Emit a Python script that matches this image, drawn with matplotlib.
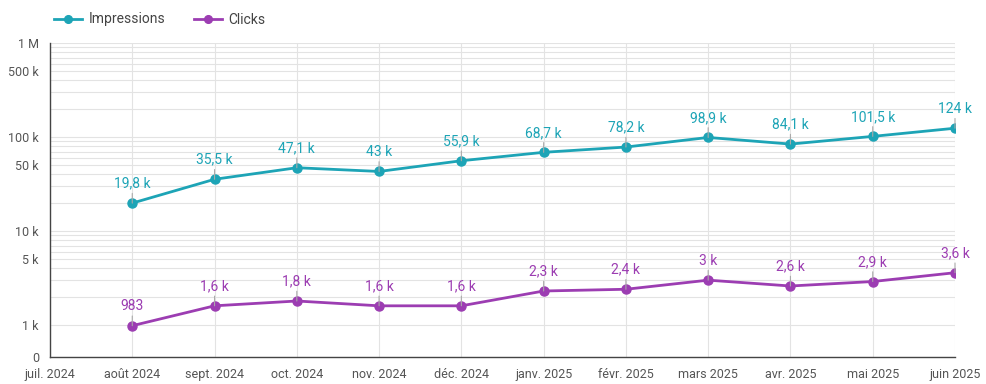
import matplotlib.pyplot as plt
import matplotlib.ticker as mticker
import numpy as np

plt.rcParams['font.family'] = ['Roboto', 'DejaVu Sans']

months = ['juil. 2024', 'août 2024', 'sept. 2024', 'oct. 2024', 'nov. 2024', 'déc. 2024',
          'janv. 2025', 'févr. 2025', 'mars 2025', 'avr. 2025', 'mai 2025', 'juin 2025']
impressions = [np.nan, 19800, 35500, 47100, 43000, 55900, 68700, 78200, 98900, 84100, 101500, 124000]
clicks = [np.nan, 983, 1600, 1800, 1600, 1600, 2300, 2400, 3000, 2600, 2900, 3600]

teal = '#1da4b6'
purple = '#9c3db2'


def fmt(v):
    if v < 1000:
        return f'{v:.0f}'
    s = f'{v / 1000:.1f}'.rstrip('0').rstrip('.')
    return s.replace('.', ',') + ' k'


fig = plt.figure(figsize=(9.87, 3.84), dpi=100)
ax = fig.add_axes([50 / 987, 27 / 384, 905 / 987, 314 / 384])

x = np.arange(len(months))
for vals, col, name in [(impressions, teal, 'Impressions'), (clicks, purple, 'Clicks')]:
    ax.plot(x, vals, color=col, lw=2, marker='o', ms=6.5, label=name, zorder=3)
    for xi, v in zip(x, vals):
        if np.isnan(v):
            continue
        ax.annotate(fmt(v), (xi, v), xytext=(0, 9), textcoords='offset points',
                    ha='center', va='bottom', color=col, fontsize=10,
                    arrowprops=dict(arrowstyle='-', color='#aaaaaa', lw=0.8,
                                    shrinkA=0, shrinkB=0), zorder=4)

ax.set_yscale('log')
ax.set_ylim(10 ** (3 - 32 / 94), 1e6)
ax.set_xlim(0, len(months) - 1)

major = [10 ** (3 - 32 / 94), 1e3, 5e3, 1e4, 5e4, 1e5, 5e5, 1e6]
major_lbl = ['0', '1 k', '5 k', '10 k', '50 k', '100 k', '500 k', '1 M']
minor = [m * 10 ** e for e in range(3, 6) for m in range(2, 10)]
ax.yaxis.set_major_locator(mticker.FixedLocator(major))
ax.yaxis.set_major_formatter(mticker.FixedFormatter(major_lbl))
ax.yaxis.set_minor_locator(mticker.FixedLocator(minor))
ax.yaxis.set_minor_formatter(mticker.NullFormatter())
ax.set_xticks(x)
ax.set_xticklabels(months)

ax.grid(True, which='both', axis='y', color='#e3e3e3', lw=0.8)
ax.grid(True, which='major', axis='x', color='#e3e3e3', lw=0.8)
ax.set_axisbelow(True)
ax.tick_params(axis='both', which='both', length=0, labelsize=9, colors='#555555')
ax.tick_params(axis='x', pad=8)
ax.tick_params(axis='y', pad=8)
for s in ['top', 'right']:
    ax.spines[s].set_visible(False)
for s in ['left', 'bottom']:
    ax.spines[s].set_color('#444444')
    ax.spines[s].set_linewidth(1)

fig.legend(loc='upper left', bbox_to_anchor=(42 / 987, 1.0), ncol=2, frameon=False,
           fontsize=10, handlelength=2.0, handletextpad=0.5, columnspacing=2.0,
           labelcolor='#444444', markerscale=0.85)

fig.savefig('out.png', dpi=100)
